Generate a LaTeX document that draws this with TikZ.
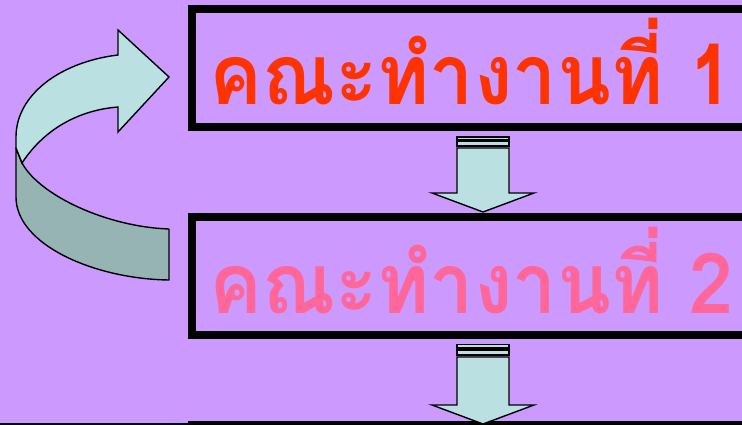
\documentclass[tikz,border=0pt]{standalone}
\usepackage{fontspec}
\newfontfamily\thaifont[Script=Thai]{Loma}
\definecolor{bg}{RGB}{204,153,255}
\definecolor{txtone}{RGB}{255,51,0}
\definecolor{txttwo}{RGB}{255,102,153}
\definecolor{arrlight}{RGB}{186,224,226}
\definecolor{arrdark}{RGB}{150,180,180}
\newcommand{\titlefmt}[1]{\scalebox{0.94}[1]{#1}}
\tikzset{
  framebox/.style={draw=black, line width=8pt, minimum width=620pt, minimum height=118pt, inner sep=0pt},
  titletext/.style={font=\thaifont\bfseries\fontsize{84}{84}\selectfont, inner sep=0pt, anchor=base},
  blockarrow/.style={draw=black, line width=1.4pt, fill=arrlight, line join=miter},
  darkface/.style={draw=black, line width=1.4pt, fill=arrdark, line join=round},
  lightface/.style={draw=black, line width=1.4pt, fill=arrlight, line join=miter}
}
\begin{document}
\begin{tikzpicture}[x=1pt, y=-1pt]
\useasboundingbox (0,0) rectangle (742,425);
\clip (0,0) rectangle (742,425);
\fill[bg] (0,0) rectangle (742,425);
% boxes
\node[framebox] (box1) at (502,68) {};
\node[framebox] (box2) at (502,276) {};
\node[framebox] (box3) at (502,484) {};
% texts
\node[titletext, text=txtone] (t1) at (471.5,105) {\titlefmt{คณะทำงานที่ 1}};
\node[titletext, text=txttwo] (t2) at (471.5,313) {\titlefmt{คณะทำงานที่ 2}};
% down arrow 1
\draw[blockarrow] (457,137) rectangle (509,140);
\draw[blockarrow] (457,141.5) rectangle (509,146);
\draw[blockarrow] (457,148) -- (509,148) -- (509,193) -- (534,193) -- (483,212) -- (432,193) -- (457,193) -- cycle;
% down arrow 2
\draw[blockarrow] (457,344.5) rectangle (509,348);
\draw[blockarrow] (457,350) rectangle (509,355);
\draw[blockarrow] (457,357) -- (509,357) -- (509,405) -- (534,405) -- (483,424) -- (432,405) -- (457,405) -- cycle;
% curved arrow: dark back face
\draw[darkface] (16,148) -- (16,197)
  .. controls (16,245) and (95,279) .. (169,280)
  -- (169,229)
  .. controls (108,227) and (40,196) .. (22,163)
  -- cycle;
% curved arrow: light front face
\draw[lightface] (22,163)
  .. controls (45,128) and (80,110) .. (118,107)
  -- (118,132) -- (169,77) -- (118,30) -- (118,55)
  .. controls (60,62) and (16,95) .. (16,137)
  -- (16,148) -- cycle;
% bottom line
\draw[line width=3pt] (0,424.5) -- (742,424.5);
\end{tikzpicture}
\end{document}
